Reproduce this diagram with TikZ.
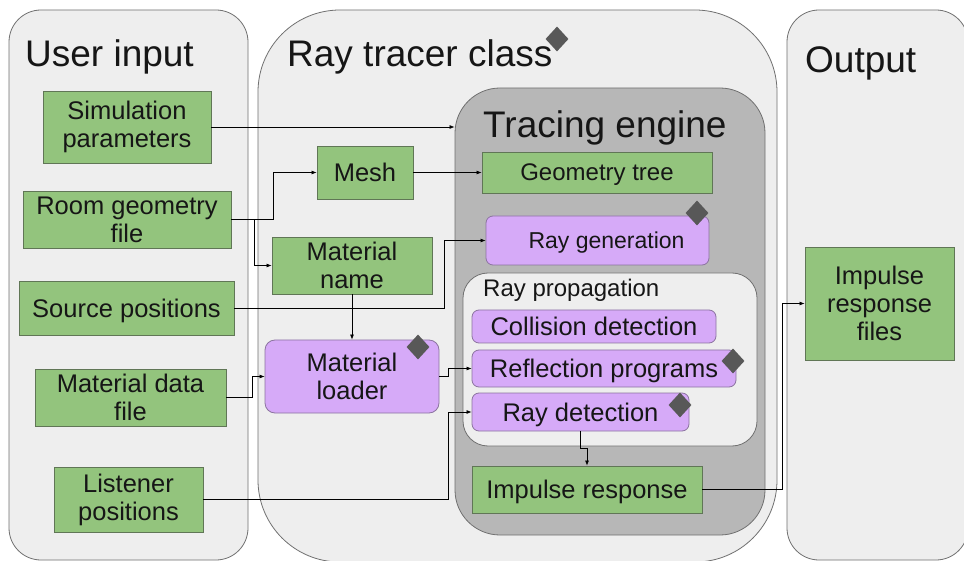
\documentclass[tikz,border=0pt]{standalone}
\usepackage{fontspec}
\setmainfont{Liberation Sans}
\usetikzlibrary{arrows.meta,shapes.geometric}

\definecolor{panelfill}{RGB}{238,238,238}
\definecolor{paneledge}{RGB}{112,112,112}
\definecolor{enginefill}{RGB}{183,183,183}
\definecolor{greenfill}{RGB}{147,196,125}
\definecolor{greenedge}{RGB}{96,118,86}
\definecolor{purplefill}{RGB}{214,170,248}
\definecolor{purpleedge}{RGB}{140,116,160}
\definecolor{markfill}{RGB}{88,88,88}
\definecolor{inktext}{RGB}{22,22,22}

\begin{document}
\begin{tikzpicture}[x=1pt,y=-1pt,
  panel/.style={draw=paneledge, fill=panelfill, line width=0.8pt, rectangle, inner sep=0pt},
  boxtext/.style={inner sep=0pt, align=center, text=inktext,
    font=\fontsize{25.5}{28}\selectfont},
  oneline/.style={text depth=0pt},
  greenbox/.style={boxtext, draw=greenedge, fill=greenfill, line width=0.8pt},
  purplebox/.style={boxtext, draw=purpleedge, fill=purplefill, line width=0.8pt,
    rounded corners=7pt},
  title/.style={anchor=base west, inner sep=0pt, text=inktext,
    font=\fontsize{37}{40}\selectfont},
  marker/.style={diamond, fill=markfill, inner sep=0pt,
    minimum width=23pt, minimum height=25pt},
  conn/.style={-{Latex[length=5pt,width=4pt]}, line width=0.75pt, black}
]
\useasboundingbox (0,0) rectangle (964,561);
\fill[white] (0,0) rectangle (964,561);

% three columns
\node[panel, rounded corners=32pt, minimum width=239pt, minimum height=550pt]
  (userpanel) at (128.5,285) {};
\node[panel, rounded corners=82pt, minimum width=519pt, minimum height=552pt]
  (classpanel) at (517.5,286) {};
\node[panel, rounded corners=32pt, minimum width=181pt, minimum height=550pt]
  (outpanel) at (877.5,285) {};

\node[title] (usertitle) at (25,67) {User input};
\node[title] (classtitle) at (287,67) {Ray tracer class};
\node[title] (outtitle) at (805,73) {Output};
\node[marker] (classmark) at (557,39) {};

% tracing engine and its propagation stage
\node[panel, fill=enginefill, rounded corners=45pt, minimum width=310pt, minimum height=447pt]
  (engine) at (610,311.5) {};
\node[title] (enginetitle) at (483,138) {Tracing engine};
\node[panel, rounded corners=25pt, minimum width=294pt, minimum height=173pt]
  (propagation) at (610,359.5) {};
\node[title, font=\fontsize{24}{26}\selectfont] (proptitle) at (483,297) {Ray propagation};

% user input
\node[greenbox, minimum width=168pt, minimum height=72pt] (simparam) at (127,127)
  {Simulation\\parameters};
\node[greenbox, minimum width=208pt, minimum height=57pt] (roomgeo) at (127,219.5)
  {Room geometry\\file};
\node[greenbox, oneline, minimum width=215pt, minimum height=54pt] (source) at (126.5,308)
  {Source positions};
\node[greenbox, minimum width=191pt, minimum height=57pt] (matdata) at (130.5,397.5)
  {Material data\\file};
\node[greenbox, minimum width=149pt, minimum height=65pt] (listener) at (128.5,499.5)
  {Listener\\positions};

% ray tracer class
\node[greenbox, oneline, minimum width=96pt, minimum height=53pt] (mesh) at (365,172.5) {Mesh};
\node[greenbox, minimum width=160pt, minimum height=57pt] (matname) at (352,265.5)
  {Material\\name};
\node[purplebox, rounded corners=10pt, minimum width=174pt, minimum height=73pt]
  (matloader) at (352,376.5) {Material\\loader};
\node[marker] (loadermark) at (418,347) {};

% tracing engine contents
\node[greenbox, oneline, font=\fontsize{24}{26}\selectfont, minimum width=230pt, minimum height=41pt]
  (geotree) at (597,172.5) {Geometry tree};
\node[purplebox, oneline, font=\fontsize{23}{26}\selectfont, minimum width=223pt, minimum height=49pt]
  (raygen) at (597.5,240.5) {\hspace*{18pt}Ray generation};
\node[marker] (raygenmark) at (697,213) {};
\node[purplebox, oneline, minimum width=244pt, minimum height=33pt] (collision) at (594,326.5)
  {Collision detection};
\node[purplebox, oneline, minimum width=264pt, minimum height=37pt] (reflect) at (604,368.5)
  {Reflection programs};
\node[marker] (reflectmark) at (733,361) {};
\node[purplebox, oneline, minimum width=217pt, minimum height=38pt] (raydet) at (580.5,412)
  {Ray detection};
\node[marker] (raydetmark) at (680,405) {};
\node[greenbox, oneline, minimum width=230pt, minimum height=47pt] (impulse) at (587,489.5)
  {Impulse response};

% output
\node[greenbox, minimum width=149pt, minimum height=113pt] (irfiles) at (879.5,303.5)
  {Impulse\\response\\files};

% data flow
\draw[conn] (simparam.east) -- (simparam.east -| engine.west);
\draw[conn] (roomgeo.east) -- ++(42,0) |- (mesh.west);
\draw[conn] (roomgeo.east) -- ++(23,0) |- (matname.west);
\draw[conn] (mesh.east) -- (geotree.west);
\draw[conn] (source.east) -- ++(210,0) |- (raygen.west);
\draw[conn] (matname.south) -- (matloader.north);
\draw[conn] (matdata.east) -- ++(26,0) |- (matloader.west);
\draw[conn] (matloader.east) -- ++(9,0) |- (reflect.west);
\draw[conn] (listener.east) -- ++(245,0) |- (raydet.west);
\draw[conn] (raydet.south) -- ++(0,17) -| (impulse.north);
\draw[conn] (impulse.east) -- ++(80,0) |- (irfiles.west);
\end{tikzpicture}
\end{document}
